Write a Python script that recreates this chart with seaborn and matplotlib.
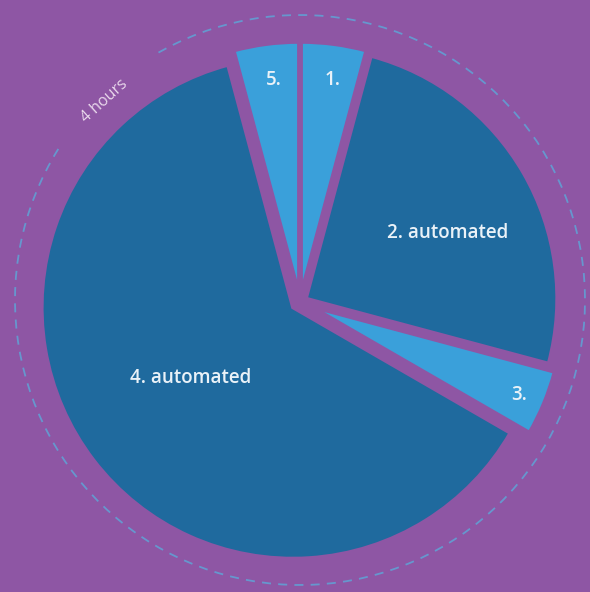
import matplotlib
matplotlib.use("Agg")
import numpy as np
import matplotlib.pyplot as plt
import seaborn as sns
from matplotlib.patches import Arc

# Time budget of a four-hour task, split into steps (minutes)
steps = ["1.", "2. automated", "3.", "4. automated", "5."]
minutes = [10, 60, 10, 150, 10]
total_label = "4 hours"

PURPLE = "#8e56a4"
DARK_BLUE = "#1f6a9e"
LIGHT_BLUE = "#3aa0da"
TEXT = "#eaf2f8"

sns.set_theme(style="white")
plt.rcParams["font.family"] = ["Open Sans", "DejaVu Sans"]

palette = sns.color_palette([LIGHT_BLUE, DARK_BLUE, LIGHT_BLUE, DARK_BLUE, LIGHT_BLUE])

fig = plt.figure(figsize=(5.9, 5.92), dpi=100, facecolor=PURPLE)
ax = fig.add_axes([0, 0, 1, 1])
ax.set_facecolor(PURPLE)

cx, cy, r = 300, 290, 251
# offsets (data units) pushing each wedge away from the centre
explode = [9, 7, 13, 9, 9]
wedges, _ = ax.pie(
    minutes,
    colors=palette,
    startangle=90,
    counterclock=False,
    explode=explode,
    radius=r,
    center=(cx, cy),
    wedgeprops=dict(edgecolor=PURPLE, linewidth=2.5),
)

# step labels: radial fraction and angular nudge from each wedge's bisector
label_frac = [0.858, 0.62, 0.895, 0.494, 0.854]
label_turn = [-1.0, -5.1, -0.6, -2.8, -0.9]
for w, lab, f, dt in zip(wedges, steps, label_frac, label_turn):
    mid = np.deg2rad((w.theta1 + w.theta2) / 2 + dt)
    wx, wy = w.center
    ax.text(wx + f * r * np.cos(mid), wy + f * r * np.sin(mid), lab,
            ha="center", va="center", color=TEXT, fontsize=13.5,
            fontweight=600)

# dashed outer ring with a gap for the total-duration caption
ring_r = 285
ring_c = (300, 292)
ax.add_patch(Arc(ring_c, 2 * ring_r, 2 * ring_r, theta1=148, theta2=481,
                 color="#5fa3d6", lw=1.3, linestyle=(0, (5, 4)), alpha=0.85))
ang = np.deg2rad(134.5)
ax.text(ring_c[0] + 279 * np.cos(ang), ring_c[1] + 279 * np.sin(ang), total_label,
        rotation=42, ha="center", va="center", color="#f3e6f3",
        fontsize=11.5, alpha=0.9)

ax.set_xlim(0, 590)
ax.set_ylim(0, 592)
ax.set_aspect("equal")
ax.axis("off")

fig.savefig("out.png", dpi=100, facecolor=PURPLE)
